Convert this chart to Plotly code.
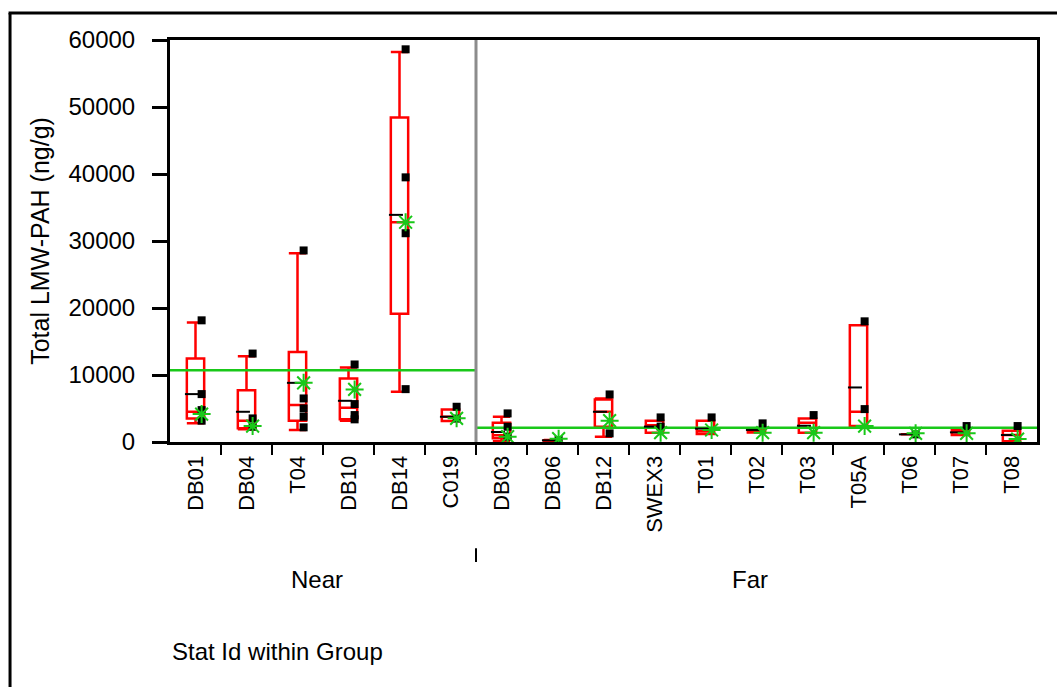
import plotly.graph_objects as go

stations = ["DB01", "DB04", "T04", "DB10", "DB14", "C019",
            "DB03", "DB06", "DB12", "SWEX3", "T01", "T02", "T03", "T05A", "T06", "T07", "T08"]
group_names = ["Near", "Far"]
group_sizes = [6, 11]
group_means = [10720, 2130]

lower_whisker = [2780, 1890, 1790, 3180, 7490, 3130,
                 100, 100, 790, 1390, 1190, 1400, 1390, 2380, 1140, 1040, 100]
q1 = [3520, 2040, 3180, 3380, 19160, 3130,
      550, 150, 2280, 1390, 1190, 1400, 1390, 2380, 1140, 1040, 100]
median = [4510, 3180, 5510, 5110, 32800, 3770,
          1000, 200, 4500, 2500, 1600, 1700, 2870, 4510, 1140, 1440, 1040]
q3 = [12460, 7740, 13450, 9480, 48430, 4860,
      2870, 250, 6350, 3180, 3180, 2000, 3520, 17420, 1140, 1790, 1690]
upper_whisker = [17820, 12800, 28190, 11120, 58210, 4860,
                 3770, 300, 6500, 3180, 3180, 2000, 3520, 17420, 1140, 1790, 1690]

point_values = [
    [18160, 7150, 4760, 3180],
    [13200, 3520, 2280],
    [28590, 6500, 5010, 3770, 2190],
    [11570, 5660, 4020, 3380],
    [58610, 39500, 31160, 7890],
    [5260, 3500],
    [4270, 2280, 800],
    [300],
    [7100, 1290],
    [3670, 2300],
    [3670],
    [2780],
    [4020],
    [18010, 4910],
    [1140],
    [2380],
    [2380],
]
cell_marks = [7150, 4510, 8830, 6150, 33900, 3770,
              1490, 250, 4510, 2300, 2000, 1800, 2430, 8140, 1140, 1440, 1040]
star_values = [4170, 2380, 8830, 7850, 32800, 3530,
               790, 500, 3180, 1390, 1790, 1390, 1390, 2380, 1290, 1290, 440]

idx = list(range(len(stations)))
RED = "#ff0000"
GREEN = "#19c819"
FONT = "Liberation Sans, Arial, sans-serif"

fig = go.Figure()

fig.add_trace(go.Box(
    x=idx, q1=q1, median=median, q3=q3,
    lowerfence=lower_whisker, upperfence=upper_whisker,
    width=0.34, whiskerwidth=1, boxpoints=False,
    line=dict(color=RED, width=2.5), fillcolor="rgba(0,0,0,0)",
    showlegend=False, hoverinfo="skip",
))

# group mean lines
start = 0
for g, n in enumerate(group_sizes):
    fig.add_trace(go.Scatter(
        x=[start - 0.5, start + n - 0.5], y=[group_means[g]] * 2,
        mode="lines", line=dict(color=GREEN, width=2.5),
        showlegend=False, hoverinfo="skip"))
    start += n

# group separator
fig.add_trace(go.Scatter(
    x=[group_sizes[0] - 0.5] * 2, y=[0, 60000], mode="lines",
    line=dict(color="#8c8c8c", width=3), showlegend=False, hoverinfo="skip"))

# cell marks (dashes)
fig.add_trace(go.Scatter(
    x=[i - 0.07 for i in idx], y=cell_marks, mode="markers",
    marker=dict(symbol="line-ew", size=10, color="black", line=dict(color="black", width=2)),
    showlegend=False, hoverinfo="skip"))

# data points
px, py = [], []
for i, vals in enumerate(point_values):
    for v in vals:
        px.append(i + 0.12)
        py.append(v)
fig.add_trace(go.Scatter(
    x=px, y=py, mode="markers",
    marker=dict(symbol="square", size=8, color="black"),
    showlegend=False, hoverinfo="skip"))

# stars
fig.add_trace(go.Scatter(
    x=[i + 0.12 for i in idx], y=star_values, mode="markers",
    marker=dict(symbol="asterisk-open", size=15, color=GREEN, line=dict(color=GREEN, width=2)),
    showlegend=False, hoverinfo="skip"))

# dummy trace on xaxis2 for boundary ticks
fig.add_trace(go.Scatter(x=[0], y=[0], xaxis="x2", mode="markers",
                         marker=dict(opacity=0), showlegend=False, hoverinfo="skip"))

n = len(stations)
fig.update_layout(
    width=1057, height=687,
    margin=dict(l=170, r=20, t=40, b=245),
    paper_bgcolor="white", plot_bgcolor="white",
    font=dict(family=FONT, color="black"),
    xaxis=dict(
        range=[-0.5, n - 0.5], tickvals=idx, ticktext=stations,
        tickangle=-90, ticks="", tickfont=dict(size=22),
        ticklabelstandoff=2,
        showline=True, linewidth=3, linecolor="black", mirror=True,
        showgrid=False, zeroline=False,
    ),
    xaxis2=dict(
        overlaying="x", anchor="y", side="bottom",
        range=[-0.5, n - 0.5], tickvals=[i + 0.5 for i in idx[:-1]],
        showticklabels=False, ticks="outside", ticklen=12, tickwidth=2,
        tickcolor="black", showgrid=False, zeroline=False, showline=False,
    ),
    yaxis=dict(
        range=[0, 60000], dtick=10000, tickformat="d",
        ticks="outside", ticklen=15, tickwidth=3, tickcolor="black",
        tickfont=dict(size=24), ticklabelstandoff=12,
        showline=True, linewidth=3, linecolor="black", mirror=True,
        showgrid=False, zeroline=False,
        title=dict(text="Total LMW-PAH (ng/g)", font=dict(size=25), standoff=12),
    ),
)

# group labels
start = 0
for g, cnt in enumerate(group_sizes):
    fig.add_annotation(x=start + (cnt - 1) / 2 - 0.12, y=-0.343, xref="x", yref="paper",
                       text=group_names[g], showarrow=False,
                       font=dict(size=24), xanchor="center", yanchor="middle")
    start += cnt

fig.add_shape(type="line", xref="x", yref="paper",
              x0=group_sizes[0] - 0.5, x1=group_sizes[0] - 0.5, y0=-0.264, y1=-0.2985,
              line=dict(color="black", width=2))

fig.add_annotation(x=0, y=-0.522, xref="paper", yref="paper", text="Stat Id within Group",
                   showarrow=False, font=dict(size=24), xanchor="left", yanchor="middle")

# outer frame (left and top)
fig.add_shape(type="line", xref="paper", yref="paper",
              x0=-0.1845, x1=-0.1845, y0=1.067, y1=-0.62, line=dict(color="black", width=3))
fig.add_shape(type="line", xref="paper", yref="paper",
              x0=-0.1862, x1=1.03, y0=1.067, y1=1.067, line=dict(color="black", width=3))

fig.write_html("out.html")
